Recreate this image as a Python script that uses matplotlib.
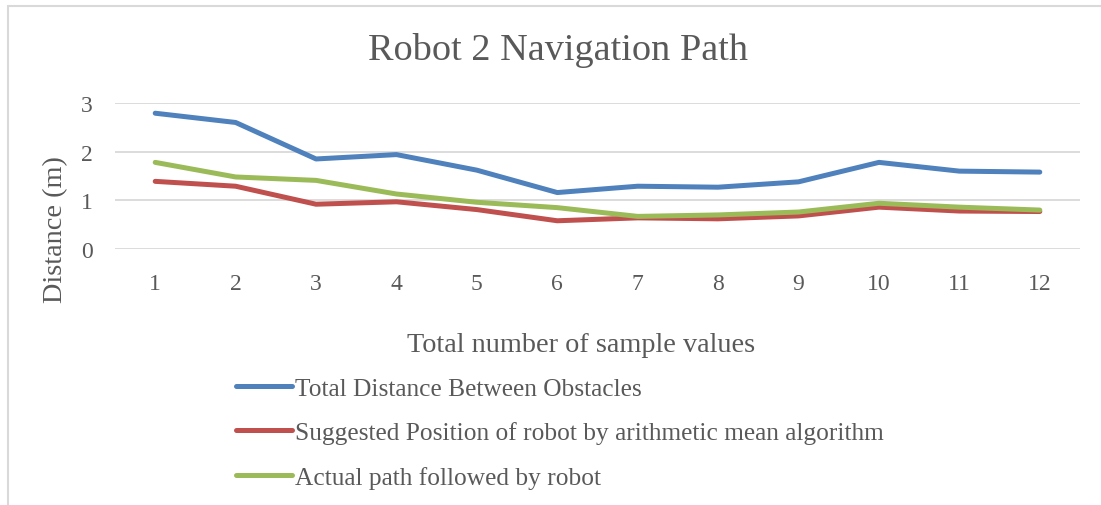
import matplotlib
matplotlib.use("Agg")
import matplotlib.pyplot as plt
from matplotlib.patches import Rectangle

plt.rcParams['font.family'] = ['Liberation Serif', 'DejaVu Serif']

# data
samples = [1, 2, 3, 4, 5, 6, 7, 8, 9, 10, 11, 12]
total_dist = [2.79, 2.60, 1.85, 1.94, 1.62, 1.16, 1.29, 1.27, 1.38, 1.78, 1.60, 1.58]
suggested = [1.39, 1.29, 0.92, 0.97, 0.81, 0.58, 0.64, 0.62, 0.68, 0.86, 0.78, 0.77]
actual = [1.78, 1.48, 1.41, 1.13, 0.96, 0.85, 0.67, 0.70, 0.76, 0.94, 0.86, 0.80]
labels = ["Total Distance Between Obstacles",
          "Suggested Position of robot by arithmetic mean algorithm",
          "Actual path followed by robot"]
colors = ["#4F81BD", "#C0504D", "#9BBB59"]

W, H = 1101, 506
txt = "#595959"
fig = plt.figure(figsize=(W / 100, H / 100), dpi=100)
ax = fig.add_axes([115 / W, 1 - 250 / H, (1080 - 115) / W, (250 - 104) / H])

lines = []
for ys, c, lab in zip([total_dist, suggested, actual], colors, labels):
    ln, = ax.plot(samples, ys, color=c, lw=3.6, label=lab,
                  solid_capstyle='round', solid_joinstyle='round')
    lines.append(ln)

ax.set_xlim(0.5, 12.5)
ax.set_ylim(0, 3)
ax.set_xticks(samples)
ax.set_yticks([0, 1, 2, 3])
ax.grid(axis='y', color='#d9d9d9', lw=1.3)
ax.set_axisbelow(True)
for s in ax.spines.values():
    s.set_visible(False)
ax.tick_params(length=0, labelsize=17, colors=txt)
ax.tick_params(axis='x', pad=17)
ax.tick_params(axis='y', pad=16)

fig.text(558 / W, 1 - 50 / H, "Robot 2 Navigation Path", ha='center', va='center',
         fontsize=27.5, color=txt)
fig.text(581 / W, 1 - 346 / H, "Total number of sample values", ha='center', va='center',
         fontsize=20.3, color=txt)
fig.text(56 / W, 1 - 230 / H, "Distance (m)", ha='center', va='center',
         rotation=90, fontsize=20.3, color=txt)

fig.legend(handles=lines, loc='upper left', bbox_to_anchor=(236 / W, 1 - 378 / H),
           frameon=False, borderaxespad=0, borderpad=0, fontsize=18.3,
           handlelength=2.2, handletextpad=0.12, labelspacing=0.85, labelcolor=txt)

fig.patches.append(Rectangle((8 / W, -0.1), 1.2, 1.1 - 7 / H, transform=fig.transFigure,
                             fill=False, edgecolor='#d9d9d9', lw=1.5))

fig.savefig("out.png", dpi=100)
